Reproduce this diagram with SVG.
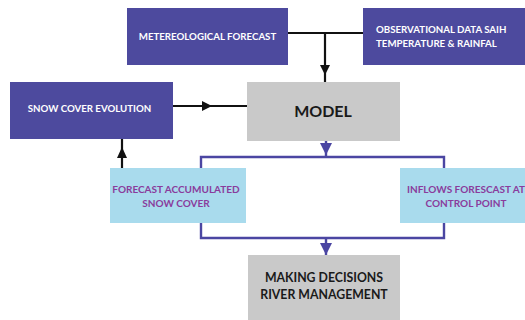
<svg xmlns="http://www.w3.org/2000/svg" width="525" height="320" viewBox="0 0 525 320">
  <style>
    .dark { fill: #4d4a9e; }
    .light { fill: #a9dbed; }
    .grey { fill: #c9c9c9; }
    .wt { fill: #ffffff; font-family: Lato, "Open Sans", sans-serif; font-weight: bold; font-size: 9.7px; }
    .pt { fill: #8a3c9c; font-family: Lato, "Open Sans", sans-serif; font-weight: bold; font-size: 10px; text-anchor: middle; }
    .bt { fill: #1a1a1a; font-family: Lato, "Open Sans", sans-serif; font-weight: bold; text-anchor: middle; }
    .blk { stroke: #111111; stroke-width: 2.2; fill: none; }
    .blu { stroke: #4b46a2; stroke-width: 2.4; fill: none; }
  </style>
  <rect width="525" height="320" fill="#ffffff"/>

  <g id="connectors">
    <!-- inputs joining into the model -->
    <path class="blk" d="M288 33 H363 M325 33 V82"/>
    <polygon points="320,65 330,65 325,75" fill="#111111"/>
    <!-- snow cover evolution to model -->
    <path class="blk" d="M173 106 H247"/>
    <polygon points="202,101 202,111 212,106" fill="#111111"/>
    <!-- accumulated snow cover feeding back -->
    <path class="blk" d="M122 168 V139"/>
    <polygon points="117,158 127,158 122,147" fill="#111111"/>
    <!-- model outputs -->
    <path class="blu" d="M326 141 V157 M201 168 V157 H444 V168"/>
    <polygon points="320,143 332,143 326,155" fill="#4b46a2"/>
    <path class="blu" d="M201 223 V238 H444 V223 M326 238 V255"/>
    <polygon points="320,243 332,243 326,255" fill="#4b46a2"/>
  </g>

  <g id="meteo">
    <rect class="dark" x="127" y="8" width="161" height="57"/>
    <text class="wt" x="207.5" y="40" text-anchor="middle">METEREOLOGICAL FORECAST</text>
  </g>

  <g id="observational">
    <rect class="dark" x="363" y="8" width="170" height="57"/>
    <text class="wt" x="376" y="33">OBSERVATIONAL DATA SAIH</text>
    <text class="wt" x="376" y="47">TEMPERATURE &amp; RAINFAL</text>
  </g>

  <g id="snow-evolution">
    <rect class="dark" x="10" y="82" width="163" height="57"/>
    <text class="wt" x="89.5" y="112" text-anchor="middle">SNOW COVER EVOLUTION</text>
  </g>

  <g id="model">
    <rect class="grey" x="247" y="82" width="153" height="59"/>
    <text class="bt" x="323" y="117" style="font-size:16px">MODEL</text>
  </g>

  <g id="accumulated">
    <rect class="light" x="110" y="168" width="136" height="55"/>
    <text class="pt" x="176" y="193">FORECAST ACCUMULATED</text>
    <text class="pt" x="176" y="207">SNOW COVER</text>
  </g>

  <g id="inflows">
    <rect class="light" x="400" y="168" width="132" height="55"/>
    <text class="pt" x="466" y="193">INFLOWS FORESCAST AT</text>
    <text class="pt" x="466" y="207">CONTROL POINT</text>
  </g>

  <g id="decisions">
    <rect class="grey" x="248" y="255" width="152" height="65"/>
    <text class="bt" x="324" y="282" style="font-size:12.3px">MAKING DECISIONS</text>
    <text class="bt" x="324" y="299" style="font-size:12.3px">RIVER MANAGEMENT</text>
  </g>
</svg>
